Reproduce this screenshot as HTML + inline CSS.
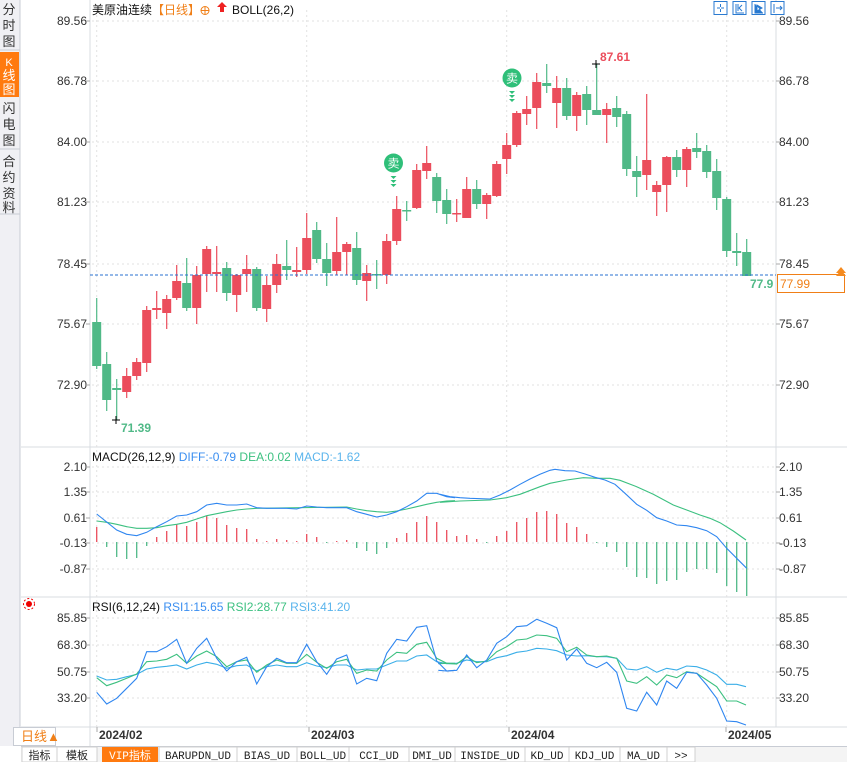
<!DOCTYPE html>
<html><head><meta charset="utf-8"><style>
body{margin:0;width:847px;height:762px;overflow:hidden;background:#fff;font-family:"Liberation Sans","Noto Sans CJK SC",sans-serif}
svg{position:absolute;left:0;top:0}
</style></head><body>
<svg id="s" width="847" height="762" xmlns="http://www.w3.org/2000/svg" font-family="Liberation Sans, Noto Sans CJK SC, sans-serif">
<rect x="0" y="0" width="20" height="746" fill="#f0f0f4"/>
<line x1="20" y1="0" x2="20" y2="746" stroke="#c8ccd4"/>
<rect x="0" y="52" width="19" height="45" fill="#ff7a0f"/>
<g font-size="13" fill="#333" text-anchor="middle">
<text x="9" y="14">分</text><text x="9" y="30">时</text><text x="9" y="46">图</text>
<text x="9" y="66" fill="#fff" font-size="11">K</text><text x="9" y="80" fill="#fff">线</text><text x="9" y="94" fill="#fff">图</text>
<text x="9" y="113">闪</text><text x="9" y="129">电</text><text x="9" y="145">图</text>
<text x="9" y="166">合</text><text x="9" y="182">约</text><text x="9" y="198">资</text><text x="9" y="212">料</text>
</g>
<line x1="0" y1="50" x2="20" y2="50" stroke="#c8ccd4"/><line x1="0" y1="149" x2="20" y2="149" stroke="#c8ccd4"/><line x1="0" y1="214" x2="20" y2="214" stroke="#c8ccd4"/>
</svg>
<script>
const S=document.getElementById('s');const NS='http://www.w3.org/2000/svg';
function el(t,a,txt,p){const e=document.createElementNS(NS,t);for(const k in a)e.setAttribute(k,a[k]);if(txt!=null)e.textContent=txt;(p||S).appendChild(e);return e;}
const RED='#eb4d5c',GRN='#50b987';
el('line',{x1:90,y1:0,x2:90,y2:746,stroke:'#d8dce2'});
el('line',{x1:776,y1:0,x2:776,y2:727,stroke:'#d8dce2'});
[447,597].forEach(y=>el('line',{x1:21,y1:y,x2:847,y2:y,stroke:'#d8dce2'}));
el('line',{x1:21,y1:727,x2:847,y2:727,stroke:'#d8dce2'});
function hl(y,lab){el('line',{x1:92,y1:y,x2:776,y2:y,stroke:'#e2e2e2','stroke-dasharray':'2,3'});
 el('text',{x:87,y:y+4,'font-size':12,fill:'#333','text-anchor':'end'},lab);
 el('text',{x:779,y:y+4,'font-size':12,fill:'#333'},lab);
 el('line',{x1:86,y1:y,x2:90,y2:y,stroke:'#aaa'});el('line',{x1:776,y1:y,x2:780,y2:y,stroke:'#aaa'});}
[[21,'89.56'],[81,'86.78'],[142,'84.00'],[202,'81.23'],[264,'78.45'],[324,'75.67'],[385,'72.90'],
 [467,'2.10'],[492,'1.35'],[518,'0.61'],[543,'-0.13'],[569,'-0.87'],
 [618,'85.85'],[645,'68.30'],[672,'50.75'],[698,'33.20']].forEach(a=>hl(a[0],a[1]));
[96.7,306.7,506.7,726.7].forEach(x=>el('line',{x1:x,y1:10,x2:x,y2:727,stroke:'#e2e2e2','stroke-dasharray':'2,3'}));
const C=[[0,322,366,298,369],[0,364,400,352,411],[0,388,390,379,420],[1,376,392,368,398],[1,362,376,358,380],[1,310,363,306,372],[1,308,310,291,319],[1,299,313,295,329],[1,281,298,265,300],[0,283,308,258,311],[1,275,308,266,324],[1,249,274,246,292],[1,272,274,246,292],[0,268,293,262,301],[1,275,295,274,312],[1,269,274,255,292],[0,269,308,267,311],[1,285,309,276,322],[1,264,285,254,293],[0,266,270,240,280],[1,270,272,247,277],[1,238,270,213,274],[0,230,259,222,263],[0,259,273,243,286],[1,252,271,217,275],[1,244,252,242,275],[0,248,280,232,285],[1,273,281,265,301],[0,274,275,260,289],[1,241,275,234,284],[1,209,241,196,245],[0,210,211,201,221],[1,170,208,164,209],[1,163,171,146,179],[0,177,201,173,213],[0,200,214,189,224],[1,213,214,199,222],[1,189,218,177,218],[0,189,204,180,209],[1,195,204,193,219],[1,164,196,161,197],[1,145,159,133,174],[1,113,145,111,147],[1,109,114,96,125],[1,82,108,73,129],[0,83,86,64,93],[1,88,103,76,128],[0,88,116,78,120],[1,95,116,92,131],[0,94,110,86,125],[0,110,115,64,115],[1,109,115,103,143],[0,108,117,96,127],[0,114,169,111,176],[0,171,177,156,197],[1,160,175,94,190],[1,185,192,181,216],[1,157,185,156,212],[0,157,170,150,177],[1,149,170,147,187],[0,148,152,133,158],[0,151,172,145,178],[0,171,198,159,210],[0,199,251,197,257],[0,251,253,233,266],[0,252,276,239,276]];
const X=i=>96.7+10*i;
C.forEach((c,i)=>{const col=c[0]?RED:GRN,x=X(i);
 el('line',{x1:x,y1:c[3],x2:x,y2:c[4],stroke:col,'stroke-width':1.2});
 el('rect',{x:x-4.5,y:c[1],width:9,height:Math.max(1.5,c[2]-c[1]),fill:col});});
el('line',{x1:90,y1:275,x2:776,y2:275,stroke:'#2a72d0','stroke-dasharray':'3,2'});
el('rect',{x:777.5,y:274.5,width:67,height:18,fill:'#fff',stroke:'#f07f17'});
el('text',{x:780,y:288,'font-size':12,fill:'#f07f17'},'77.99');
el('text',{x:750,y:288,'font-size':12,fill:GRN,'font-weight':'bold'},'77.9');
el('polygon',{points:'836,273 841,267 846,273',fill:'#f58a1f'});el('polygon',{points:'836,276 841,270 846,276',fill:'#f58a1f'});
el('text',{x:600,y:61,'font-size':12,fill:RED,'font-weight':'bold'},'87.61');
el('path',{d:'M592 64h8M596 60v8',stroke:'#000'});
el('text',{x:121,y:432,'font-size':12,fill:GRN,'font-weight':'bold'},'71.39');
el('path',{d:'M112 420h8M116 416v8',stroke:'#000'});
[[393.5,163],[512,78]].forEach(p=>{el('circle',{cx:p[0],cy:p[1],r:9.5,fill:'#2fbf79'});
 el('text',{x:p[0],y:p[1]+4.5,'font-size':12,fill:'#fff','text-anchor':'middle'},'卖');
 for(let k=0;k<3;k++){const y=p[1]+13+k*4;el('polygon',{points:`${p[0]-3},${y} ${p[0]+3},${y} ${p[0]},${y+3}`,fill:'#2fbf79'});}});
const h=el('text',{x:92,y:14,'font-size':12,fill:'#111'});
h.innerHTML='美原油连续<tspan fill="#f07f17">【日线】</tspan>';
el('circle',{cx:205,cy:10.5,r:4,fill:'none',stroke:'#f07f17'});el('path',{d:'M201 10.5h8M205 6.5v8',stroke:'#f07f17'});
el('polygon',{points:'222,2 227,7 224,7 224,12 220,12 220,7 217,7',fill:'#e22'});
el('text',{x:232,y:14,'font-size':12,fill:'#111'},'BOLL(26,2)');
[714,733,752,771].forEach(x=>{el('rect',{x:x,y:1.5,width:13,height:13,fill:'#fff',stroke:'#2a7ad0'});});
el('path',{d:'M720.5 4v3M720.5 9v3M717 8h3M721 8h3',stroke:'#2a7ad0'});
el('path',{d:'M736 4v9h8M738 4v7M742 5l-3 3 3 3',stroke:'#2a7ad0',fill:'none'});
el('path',{d:'M755 4v9h8M757 5l5 3-5 3z',stroke:'#2a7ad0',fill:'#2a7ad0'});
el('path',{d:'M774 4v9M776 8h6M780 6l2 2-2 2',stroke:'#2a7ad0',fill:'none'});
el('text',{x:92,y:461,'font-size':12}).innerHTML='<tspan fill="#111">MACD(26,12,9)</tspan> <tspan fill="#3a8ef0">DIFF:-0.79</tspan>  <tspan fill="#3cc080">DEA:0.02</tspan>  <tspan fill="#5ab4ec">MACD:-1.62</tspan>';
const H=[527,547,557,559,558,546,537,531,524,526,522,516,518,525,528,529,539,541,539,540,541,534,537,542,541,540,548,551,554,548,538,533,522,516,522,530,536,535,539,542,536,531,522,518,512,511,514,523,527,534,542,547,552,567,577,578,584,581,580,572,569,569,573,586,592,596];
const B=542;H.forEach((y,i)=>{const x=X(i);el('line',{x1:x,y1:B,x2:x,y2:y===B?B+1:y,stroke:y<B?RED:GRN,'stroke-width':1.3});});
function pl(pts,ox,oy,col){el('polyline',{points:pts.map(p=>(p[0]/3+ox).toFixed(1)+','+(p[1]/3+oy).toFixed(1)).join(' '),fill:'none',stroke:col,'stroke-width':1.1});}
const dif1=[[35,207],[95,255],[125,268],[155,272],[185,262],[215,245],[245,230],[275,213],[305,210],[335,200],[365,180],[395,175],[425,180],[455,180],[485,177],[515,188],[545,190],[575,190],[605,190],[635,192],[665,183],[695,186],[725,188],[755,188],[785,188],[815,200],[845,208],[875,216],[905,210],[935,200],[965,185],[995,168],[1025,145],[1055,145],[1085,155],[1110,158]];
const dif2=[[0,148],[30,155],[60,158],[90,160],[150,162],[180,150],[210,135],[240,118],[270,102],[300,88],[330,76],[345,73],[375,77],[405,78],[435,87],[465,97],[495,105],[525,118],[555,145],[590,178],[620,196],[650,218],[680,228],[710,240],[740,242],[770,248],[800,257],[830,275],[860,310],[890,340],[920,370]];
const dea1=[[35,228],[65,232],[95,238],[125,245],[155,250],[185,250],[215,248],[245,242],[275,238],[305,232],[335,222],[365,212],[395,206],[425,200],[455,195],[485,192],[515,190],[785,186],[815,192],[845,197],[875,200],[905,202],[935,198],[965,192],[995,185],[1025,178],[1055,172],[1085,168],[1110,167]];
const dea2=[[0,172],[60,168],[150,165],[200,158],[240,148],[300,125],[330,115],[380,105],[430,98],[470,100],[510,100],[540,106],[590,125],[640,148],[700,180],[740,195],[780,210],[810,220],[840,233],[880,258],[918,285]];
pl(dea1,85,445,'#3cc080');pl(dea2,440,445,'#3cc080');pl(dif1,85,445,'#2f86f0');pl(dif2,440,445,'#2f86f0');
el('text',{x:92,y:611,'font-size':12}).innerHTML='<tspan fill="#111">RSI(6,12,24)</tspan> <tspan fill="#3a8ef0">RSI1:15.65</tspan>  <tspan fill="#3cc080">RSI2:28.77</tspan>  <tspan fill="#5ab4ec">RSI3:41.20</tspan>';
el('circle',{cx:29,cy:604,r:3,fill:'#e00'});el('circle',{cx:29,cy:604,r:5.5,fill:'none',stroke:'#e00','stroke-dasharray':'2,2'});
const r1a=[[35,292],[65,327],[95,310],[125,280],[155,250],[185,170],[215,170],[245,155],[275,133],[305,205],[335,160],[365,130],[395,190],[425,228],[455,200],[485,187],[515,267],[545,215],[575,190],[605,203],[635,203],[665,148],[695,200],[725,238],[755,192],[785,180],[815,267],[845,250],[875,257],[905,175],[935,133],[965,138],[995,97],[1025,92],[1055,198],[1085,228],[1110,226]];
const r2a=[[35,248],[65,272],[95,262],[125,250],[155,237],[185,200],[215,198],[245,193],[275,178],[305,205],[335,183],[365,168],[395,185],[425,215],[455,200],[485,195],[515,232],[545,210],[575,195],[605,205],[635,205],[665,178],[695,202],[725,220],[755,200],[785,193],[815,235],[845,225],[875,228],[905,195],[935,172],[965,175],[995,148],[1025,142],[1055,190],[1085,205],[1110,205]];
const r3a=[[35,243],[65,255],[95,253],[125,245],[155,238],[185,222],[215,217],[245,214],[275,210],[305,222],[335,210],[365,202],[395,208],[425,220],[455,212],[485,210],[515,228],[545,215],[575,210],[605,215],[635,215],[665,203],[695,213],[725,218],[755,210],[785,210],[815,225],[845,222],[875,222],[905,210],[935,198],[965,198],[995,183],[1025,180],[1055,200],[1085,206],[1110,206]];
const r1b=[[-5,226],[20,228],[50,226],[80,180],[110,218],[140,195],[170,145],[200,125],[230,95],[260,92],[290,73],[320,85],[350,98],[380,195],[410,162],[440,205],[470,218],[500,202],[530,232],[560,340],[590,348],[620,292],[650,330],[680,258],[710,280],[740,232],[770,235],[800,270],[830,310],[860,378],[890,380],[918,390]];
const r2b=[[-5,205],[20,205],[50,207],[80,185],[110,203],[140,198],[170,170],[200,155],[230,135],[260,132],[290,120],[320,122],[350,130],[380,170],[410,157],[440,180],[470,185],[500,183],[530,190],[560,258],[590,265],[620,245],[650,270],[680,240],[710,248],[740,230],[770,235],[800,255],[830,275],[860,318],[890,318],[918,330]];
const r3b=[[-5,206],[20,205],[50,205],[80,195],[110,200],[140,200],[170,188],[200,182],[230,172],[260,168],[290,160],[320,162],[350,167],[380,180],[410,183],[440,182],[470,185],[500,185],[530,190],[560,222],[590,225],[620,215],[650,232],[680,220],[710,225],[740,213],[770,215],[800,225],[830,240],[860,268],[890,268],[918,275]];
pl(r3a,85,595,'#3aaee8');pl(r3b,440,595,'#3aaee8');pl(r2a,85,595,'#3cc080');pl(r2b,440,595,'#3cc080');pl(r1a,85,595,'#2f86f0');pl(r1b,440,595,'#2f86f0');
[[99,'2024/02'],[311,'2024/03'],[511,'2024/04'],[728,'2024/05']].forEach(a=>{el('text',{x:a[0],y:739,'font-size':12,'font-weight':'bold',fill:'#333'},a[1]);el('line',{x1:a[0]-2,y1:727,x2:a[0]-2,y2:732,stroke:'#aaa'});});
el('rect',{x:13.5,y:727.5,width:42,height:18,fill:'#fff',stroke:'#c8ccd4'});
el('text',{x:21,y:741,'font-size':13,fill:'#f07f17'},'日线▲');
el('rect',{x:21,y:746,width:826,height:16,fill:'#f4f4f4'});
el('line',{x1:21,y1:746.5,x2:847,y2:746.5,stroke:'#c8ccd4'});
const tabs=[['指标',22,57],['模板',57,97],['VIP指标',97,159],['BARUPDN_UD',159,237],['BIAS_UD',237,297],['BOLL_UD',297,349],['CCI_UD',349,409],['DMI_UD',409,455],['INSIDE_UD',455,525],['KD_UD',525,569],['KDJ_UD',569,620],['MA_UD',620,667],['>>',667,695]];
tabs.forEach(t=>{const vip=t[0]==='VIP指标';if(vip)el('rect',{x:t[1]+5,y:747,width:t[2]-t[1]-6,height:15,fill:'#ff7a0f'});
 else el('rect',{x:t[1],y:747,width:t[2]-t[1],height:15,fill:'#fff',stroke:'#d0d0d0'});
 el('text',{x:(t[1]+t[2])/2+(vip?2:0),y:759,'font-size':11,fill:vip?'#fff':'#222','text-anchor':'middle','font-family':'Liberation Mono, Noto Sans CJK SC, monospace'},t[0]);});
</script>
</body></html>
